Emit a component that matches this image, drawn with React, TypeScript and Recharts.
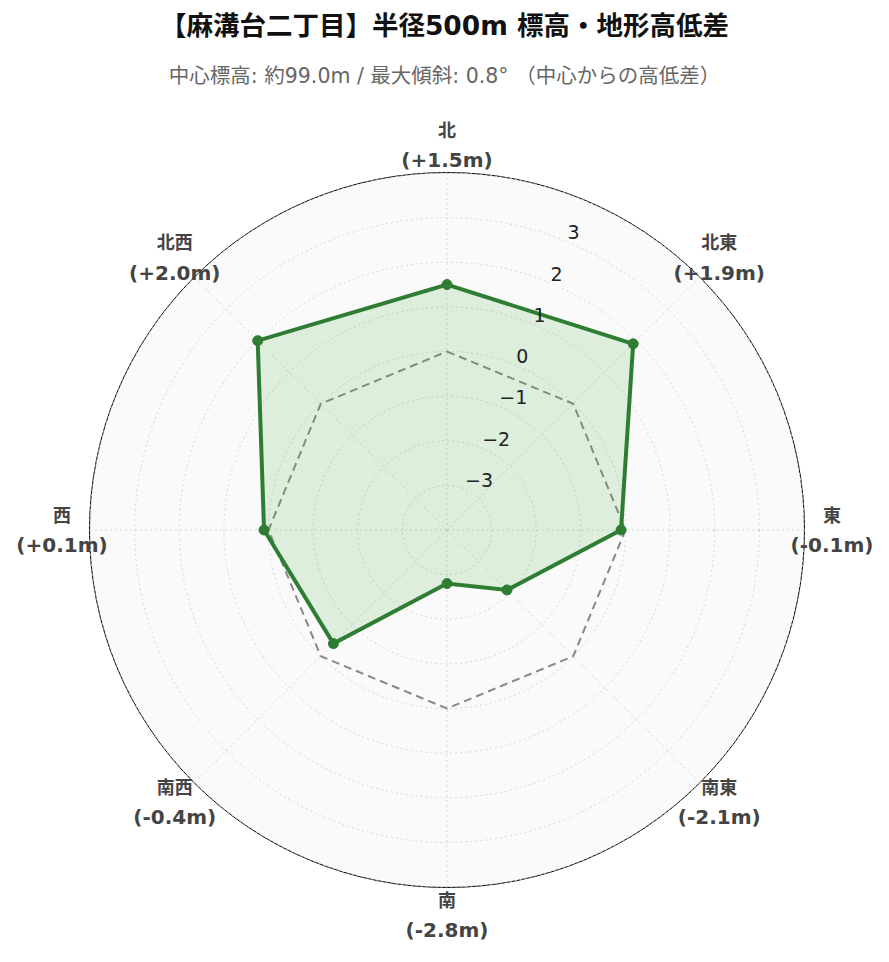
import React from 'react';
import { RadarChart, Radar, PolarGrid, PolarAngleAxis, PolarRadiusAxis } from 'recharts';

// Directions clockwise from north
const directions = ['北', '北東', '東', '南東', '南', '南西', '西', '北西'];
// Elevation difference from center (m)
const elevationDiffs = [1.5, 1.9, -0.1, -2.1, -2.8, -0.4, 0.1, 2.0];
// Reference line at 0 m
const zeroLine = [0, 0, 0, 0, 0, 0, 0, 0];
const radialTicks = [-4, -3, -2, -1, 0, 1, 2, 3, 4];
const radialDomain: [number, number] = [-4, 4];

const W = 889;
const H = 962;
const CX = 447;
const CY = 530;
const R = 357;
const LABEL_R = 385;

const FONT = "'DejaVu Sans', 'Noto Sans CJK JP', sans-serif";

const fmtDiff = (v: number) => `(${v >= 0 ? '+' : '-'}${Math.abs(v).toFixed(1)}m)`;

const data = directions.map((d, i) => ({
  dir: d,
  value: elevationDiffs[i],
  zero: zeroLine[i],
}));

const AngleTick = (props: any) => {
  const { x, y, payload } = props;
  const dx = x - CX;
  const dy = y - CY;
  const len = Math.sqrt(dx * dx + dy * dy) || 1;
  const nx = CX + (dx / len) * LABEL_R;
  const ny = CY + (dy / len) * LABEL_R;
  const idx = directions.indexOf(payload.value);
  return (
    <g>
      <text x={nx} y={ny - 15} textAnchor="middle" dominantBaseline="central"
        fontSize={18} fontWeight="bold" fill="#444" fontFamily={FONT}>
        {payload.value}
      </text>
      <text x={nx} y={ny + 15} textAnchor="middle" dominantBaseline="central"
        fontSize={20} fontWeight="bold" fill="#444" fontFamily={FONT}>
        {fmtDiff(elevationDiffs[idx])}
      </text>
    </g>
  );
};

const RadiusTick = (props: any) => {
  const { x, y, payload } = props;
  const v = Number(payload.value);
  if (Math.abs(v) >= 4) return null;
  const label = v < 0 ? `\u2212${Math.abs(v)}` : `${v}`;
  return (
    <text x={x + 1} y={y - 9} textAnchor="start" dominantBaseline="central"
      fontSize={19} fill="#222" fontFamily={FONT}>
      {label}
    </text>
  );
};

const App: React.FC = () => {
  return (
    <div style={{ position: 'absolute', left: 0, top: 0, width: W, height: H, background: '#fff', fontFamily: FONT }}>
      <div style={{ position: 'absolute', left: 0, top: 9, width: W, textAlign: 'center', fontSize: 26.5, fontWeight: 'bold', color: '#111', lineHeight: '34px' }}>
        【麻溝台二丁目】半径500m 標高・地形高低差
      </div>
      <div style={{ position: 'absolute', left: 0, top: 62, width: W, textAlign: 'center', fontSize: 20.5, color: '#666', lineHeight: '28px' }}>
        中心標高: 約99.0m / 最大傾斜: 0.8° （中心からの高低差）
      </div>
      {/* plot background disc */}
      <div style={{
        position: 'absolute', left: CX - R - 1, top: CY - R - 1, width: 2 * R + 2, height: 2 * R + 2,
        borderRadius: '50%', background: '#fafafa', border: '1.8px solid #000', boxSizing: 'border-box',
      }} />
      <div style={{ position: 'absolute', left: 0, top: 0 }}>
        <RadarChart width={W} height={H} data={data} cx={CX} cy={CY} outerRadius={R}
          margin={{ top: 0, right: 0, bottom: 0, left: 0 }}>
          <PolarGrid gridType="circle" stroke="#d6d6d6" strokeDasharray="2 3" />
          <PolarAngleAxis dataKey="dir" tick={<AngleTick />} tickLine={false} axisLine={false} />
          <PolarRadiusAxis angle={67.5} domain={radialDomain} ticks={radialTicks} tickCount={9}
            axisLine={false} tick={<RadiusTick />} />
          <Radar dataKey="zero" stroke="#888" strokeWidth={2} strokeDasharray="8 5"
            fill="none" fillOpacity={0} dot={false} isAnimationActive={false} />
          <Radar dataKey="value" stroke="#2e7d32" strokeWidth={4} fill="#4caf50" fillOpacity={0.17}
            dot={{ r: 5, fill: '#2e7d32', stroke: '#2e7d32', strokeWidth: 1, fillOpacity: 1 }}
            isAnimationActive={false} />
        </RadarChart>
      </div>
    </div>
  );
};

export default App;
